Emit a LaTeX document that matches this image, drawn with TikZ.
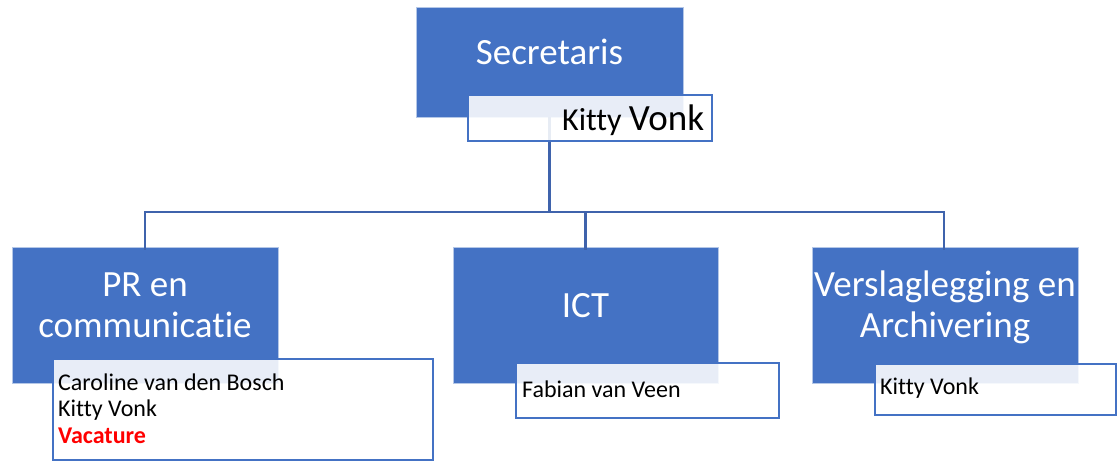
\documentclass[tikz,border=0pt]{standalone}
\usepackage{fontspec}
\setmainfont{Carlito}[Ligatures={NoCommon}]
\definecolor{boxblue}{RGB}{68,114,196}
\definecolor{linkblue}{RGB}{63,99,172}
\definecolor{vacred}{RGB}{255,0,0}
\begin{document}
\begin{tikzpicture}[x=1pt,y=-1pt,
  role/.style={fill=boxblue, draw=white!60!boxblue, line width=0.6pt, inner sep=0pt},
  namebox/.style={fill=white, fill opacity=0.88, draw=boxblue, draw opacity=1, line width=1.5pt, inner sep=0pt},
  link/.style={draw=linkblue, line width=2.4pt},
  title/.style={text=white, font=\fontsize{37}{41}\selectfont, align=center, inner sep=0pt},
  person/.style={text=black, font=\fontsize{24}{26.5}\selectfont, align=left, inner sep=0pt, anchor=base west}]
\useasboundingbox (0,0) rectangle (1117,461);
\coordinate (bus) at (0,212);
% blue role boxes
\node[role, minimum width=267pt, minimum height=110pt] (sec) at (549.5,62) {};
\node[role, minimum width=266pt, minimum height=136pt] (pr) at (145,315) {};
\node[role, minimum width=265pt, minimum height=136pt] (ict) at (585.5,315) {};
\node[role, minimum width=266pt, minimum height=136pt] (ver) at (945,315) {};
% connectors
\draw[link] (sec.south) -- (sec.south |- bus) -| ([yshift=-3pt]pr.north);
\draw[link] (sec.south |- bus) -| ([yshift=-3pt]ict.north);
\draw[link] (sec.south |- bus) -| ([xshift=-1pt,yshift=-3pt]ver.north);
% titles
\node[title, anchor=base] (secT) at (549.5,64) {Secretaris};
\node[title, anchor=base] (prT) at (145,337) {PR en\\communicatie};
\node[title, anchor=base] (ictT) at (585.5,317) {ICT};
\node[title, anchor=base] (verT) at (945,337) {Verslaglegging en\\Archivering};
% name boxes
\node[namebox, minimum width=244pt, minimum height=46pt] (secN) at (590,118) {};
\node[namebox, minimum width=380pt, minimum height=101pt] (prN) at (243,409.5) {};
\node[namebox, minimum width=263pt, minimum height=55pt] (ictN) at (647.5,390.5) {};
\node[namebox, minimum width=241pt, minimum height=51pt] (verN) at (995.5,389.5) {};
% names
\node[anchor=base west, inner sep=0pt] (secP) at (562,130) {\fontsize{32}{32}\selectfont Kitty \fontsize{37}{37}\selectfont Vonk};
\node[person] (prP) at (58,443) {Caroline van den Bosch\\Kitty Vonk\\\textcolor{vacred}{\bfseries Vacature}};
\node[person] (ictP) at (522,397) {Fabian van Veen};
\node[person] (verP) at (880,394) {Kitty Vonk};
\end{tikzpicture}
\end{document}
